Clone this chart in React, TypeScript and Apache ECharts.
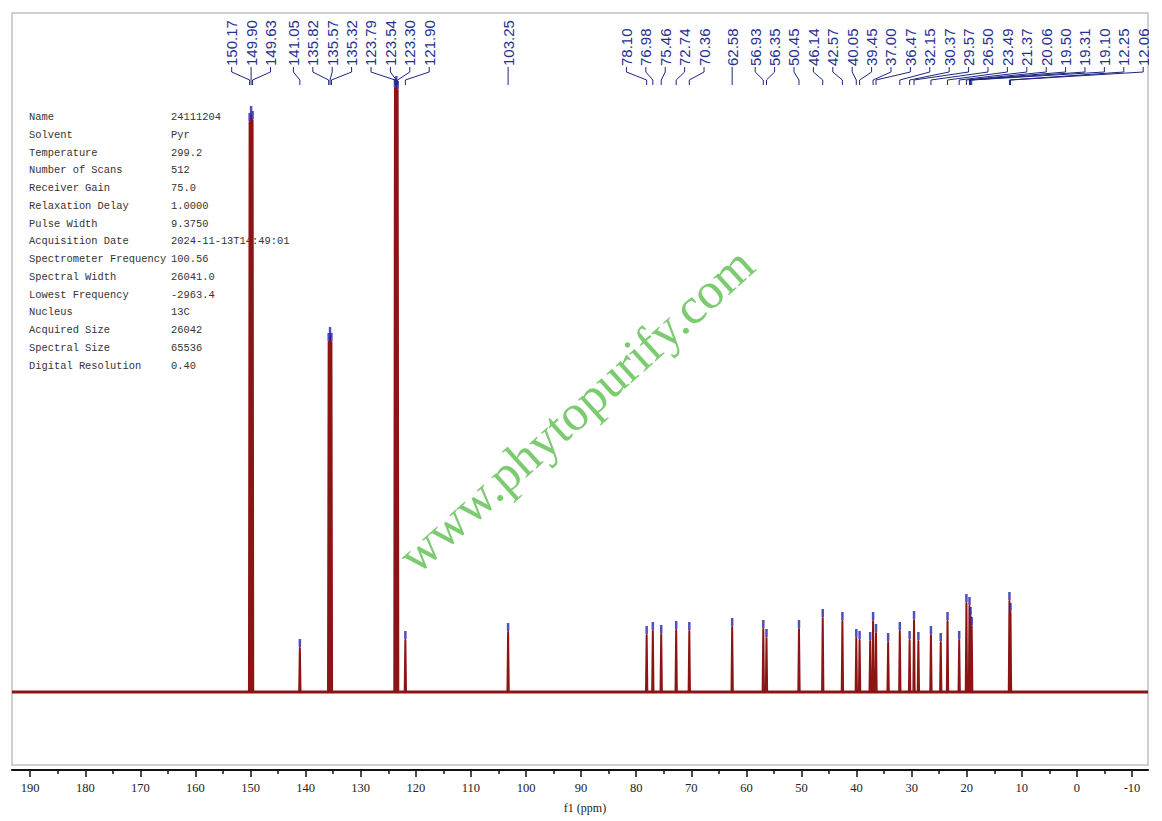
import React, { useEffect, useRef } from "react";
import * as echarts from "echarts";

// ---- data ----
const X_MAX = 193.3;
const X_MIN = -12.9;
const majorTicks = [190, 180, 170, 160, 150, 140, 130, 120, 110, 100, 90, 80, 70, 60, 50, 40, 30, 20, 10, 0, -10];
const minorTicks = [185, 175, 165, 155, 145, 135, 125, 115, 105, 95, 85, 75, 65, 55, 45, 35, 25, 15, 5, -5];

const peakPpm = [
  150.17, 149.9, 149.63, 141.05, 135.82, 135.57, 135.32, 123.79, 123.54, 123.3, 121.9, 103.25,
  78.1, 76.98, 75.46, 72.74, 70.36, 62.58, 56.93, 56.35, 50.45, 46.14, 42.57, 40.05, 39.45,
  37.53, 37.0, 36.47, 34.27, 32.15, 30.37, 29.57, 28.78, 26.5, 24.72, 23.49, 21.37, 20.06,
  19.5, 19.31, 19.1, 12.25, 12.06,
];
const peakHeight = [
  570, 577, 572, 44, 350, 356, 350, 604, 607, 602, 52, 60,
  57, 61, 58, 62, 61, 65, 63, 54, 63, 74, 71, 54, 52,
  51, 71, 59, 50, 61, 52, 72, 51, 57, 50, 71, 52, 89,
  86, 76, 66, 91, 80,
];
const labelPpm = [
  150.17, 149.9, 149.63, 141.05, 135.82, 135.57, 135.32, 123.79, 123.54, 123.3, 121.9, 103.25,
  78.1, 76.98, 75.46, 72.74, 70.36, 62.58, 56.93, 56.35, 50.45, 46.14, 42.57, 40.05, 39.45,
  37.0, 36.47, 32.15, 30.37, 29.57, 26.5, 23.49, 21.37, 20.06, 19.5, 19.31, 19.1, 12.25, 12.06,
];
const paramNames = [
  "Name", "Solvent", "Temperature", "Number of Scans", "Receiver Gain", "Relaxation Delay",
  "Pulse Width", "Acquisition Date", "Spectrometer Frequency", "Spectral Width",
  "Lowest Frequency", "Nucleus", "Acquired Size", "Spectral Size", "Digital Resolution",
];
const paramValues = [
  "24111204", "Pyr", "299.2", "512", "75.0", "1.0000", "9.3750", "2024-11-13T14:49:01",
  "100.56", "26041.0", "-2963.4", "13C", "26042", "65536", "0.40",
];
const axisTitle = "f1 (ppm)";
const watermark = "www.phytopurify.com";

// ---- styles ----
const TRACE = "#8c1414";
const BLUE = "#26308f";
const MARK = "#2424a8";

// Label layout: labels of nearby peaks are centred as a group, then groups are
// pushed apart from left to right, and finally pulled back inside the right edge.
function layoutLabels(targets: number[], gap: number, lo: number, hi: number): number[] {
  const n = targets.length;
  const pos: number[] = new Array(n).fill(0);
  const joinDist = gap * 1.6;
  let i = 0;
  let prevEnd = -Infinity;
  while (i < n) {
    let j = i;
    while (j + 1 < n && targets[j + 1] - targets[j] < joinDist) j++;
    const m = j - i + 1;
    let mean = 0;
    for (let k = i; k <= j; k++) mean += targets[k];
    mean /= m;
    let base = mean - ((m - 1) * gap) / 2;
    base = Math.max(base, lo, prevEnd + gap);
    for (let k = i; k <= j; k++) pos[k] = base + (k - i) * gap;
    prevEnd = pos[j];
    i = j + 1;
  }
  if (pos[n - 1] > hi) pos[n - 1] = hi;
  for (let k = n - 2; k >= 0; k--) pos[k] = Math.min(pos[k], pos[k + 1] - gap);
  return pos;
}

export default function App() {
  const ref = useRef<HTMLDivElement>(null);
  useEffect(() => {
    if (!ref.current) return;
    const chart = echarts.init(ref.current, undefined, { renderer: "svg" });

    const order = peakPpm.map((p, i) => i).sort((a, b) => peakPpm[b] - peakPpm[a]);
    const trace: number[][] = [[X_MAX, 0]];
    order.forEach((i) => {
      const p = peakPpm[i];
      trace.push([p + 0.12, 0], [p, peakHeight[i]], [p - 0.12, 0]);
    });
    trace.push([X_MIN, 0]);
    const tops = peakPpm.map((p, i) => [p, peakHeight[i]]);

    const axisCommon = {
      type: "value" as const,
      min: X_MIN,
      max: X_MAX,
      inverse: true,
      position: "bottom" as const,
      splitLine: { show: false },
    };

    chart.setOption({
      animation: false,
      backgroundColor: "#ffffff",
      grid: { left: 12, right: 14, top: 14, bottom: 51, containLabel: false },
      xAxis: [
        {
          ...axisCommon,
          axisLine: { show: true, onZero: false, lineStyle: { color: "#111", width: 2 } },
          axisTick: { show: true, customValues: majorTicks, length: 7, lineStyle: { color: "#111", width: 1.5 } },
          axisLabel: {
            customValues: majorTicks,
            color: "#222",
            fontFamily: "Liberation Serif",
            fontSize: 12.5,
            margin: 11,
          },
        },
        {
          ...axisCommon,
          axisLine: { show: false, onZero: false },
          axisTick: { show: true, customValues: minorTicks, length: 4, lineStyle: { color: "#111", width: 1.5 } },
          axisLabel: { show: false },
        },
      ],
      yAxis: { type: "value", min: -78, max: 678, show: false },
      series: [
        {
          type: "line",
          data: [[X_MAX, 0], [X_MIN, 0]],
          showSymbol: false,
          lineStyle: { color: TRACE, width: 3 },
          z: 2,
          silent: true,
        },
        {
          type: "line",
          data: trace,
          showSymbol: false,
          lineStyle: { color: TRACE, width: 2, join: "round" },
          z: 3,
          silent: true,
        },
        {
          type: "scatter",
          data: tops,
          symbol: "rect",
          symbolSize: [2.5, 8],
          symbolOffset: [0, -5],
          itemStyle: { color: MARK },
          z: 4,
          silent: true,
        },
      ],
    });

    const px = (p: number) => chart.convertToPixel({ xAxisIndex: 0 }, p) as number;
    const labelTargets = labelPpm.map((p) => px(p));
    const labelX = layoutLabels(labelTargets, 19.4, 20, 1147);

    const elements: any[] = [];
    elements.push({
      type: "rect",
      shape: { x: 12, y: 13, width: 1136, height: 752 },
      style: { fill: "none", stroke: "#cfcfcf", lineWidth: 2 },
      z: -10,
      silent: true,
    });
    paramNames.forEach((n, i) => {
      const y = 117 + i * 17.75;
      elements.push({
        type: "text",
        x: 29,
        y,
        z: 1,
        style: { text: n, fill: "#333", font: '10.4px "Liberation Mono"', textVerticalAlign: "middle" },
      });
      elements.push({
        type: "text",
        x: 171,
        y,
        z: 1,
        style: { text: paramValues[i], fill: "#333", font: '10.4px "Liberation Mono"', textVerticalAlign: "middle" },
      });
    });
    elements.push({
      type: "text",
      x: 576,
      y: 410,
      rotation: (42 * Math.PI) / 180,
      z: 0,
      style: {
        text: watermark,
        fill: "#7ccb70",
        font: '51px "Liberation Serif"',
        textAlign: "center",
        textVerticalAlign: "middle",
      },
    });
    labelPpm.forEach((p, i) => {
      const lx = labelX[i];
      const tx = labelTargets[i];
      elements.push({
        type: "polyline",
        z: 10,
        shape: { points: [[lx, 67], [lx, 72], [tx, 80], [tx, 85]] },
        style: { stroke: "#1c2580", lineWidth: 1, fill: null },
      });
      elements.push({
        type: "text",
        x: lx,
        y: 66,
        rotation: Math.PI / 2,
        z: 10,
        style: {
          text: p.toFixed(2),
          fill: BLUE,
          font: '15px "Liberation Sans"',
          textAlign: "left",
          textVerticalAlign: "middle",
        },
      });
    });
    elements.push({
      type: "rect",
      shape: { x: 1149, y: 0, width: 20, height: 110 },
      style: { fill: "#ffffff" },
      z: 20,
      silent: true,
    });
    elements.push({
      type: "text",
      x: 585,
      y: 808,
      z: 1,
      style: {
        text: axisTitle,
        fill: "#222",
        font: '12px "Liberation Serif"',
        textAlign: "center",
        textVerticalAlign: "middle",
      },
    });
    chart.setOption({ graphic: { elements } });

    return () => chart.dispose();
  }, []);

  return (
    <div
      ref={ref}
      style={{ position: "fixed", left: 0, top: 0, width: 1162, height: 821, background: "#fff" }}
    />
  );
}
